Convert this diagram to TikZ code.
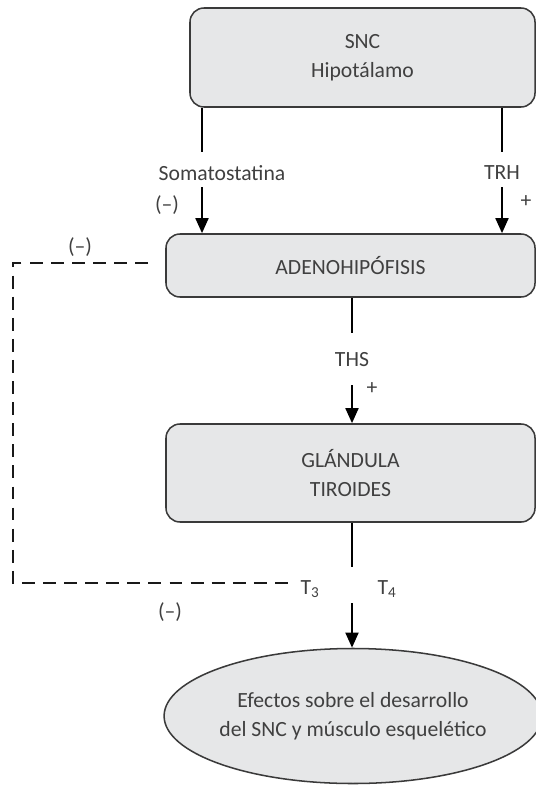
\documentclass[tikz,border=0pt]{standalone}
\usepackage{fontspec}
\setmainfont{Carlito}
\usetikzlibrary{arrows.meta,shapes.geometric}

\definecolor{relleno}{HTML}{E6E7E8}
\definecolor{borde}{HTML}{3A3A3A}
\definecolor{texto}{HTML}{404040}

\tikzset{
	caja/.style={draw=borde, line width=1.3pt, fill=relleno, rounded corners=0.42cm,
		inner sep=0pt, align=center, text=texto},
	elipse/.style={ellipse, draw=borde, line width=1.3pt, fill=relleno,
		inner sep=0pt, align=center, text=texto},
	linea/.style={line width=2.2pt, black},
	flecha/.style={line width=2.2pt, black, -{Triangle[length=13pt,width=11pt]}},
	retro/.style={line width=2.4pt, black!90, dash pattern=on 11pt off 7pt},
	etiq/.style={text=texto, inner sep=1pt}
}

\begin{document}
\begin{tikzpicture}[x=0.03cm, y=-0.03cm, font=\fontsize{18.5}{25}\selectfont]
		\useasboundingbox (0, 0) rectangle (536, 786);
		
		% Cajas
		\node[caja, minimum width=10.35cm, minimum height=2.97cm] (hipo) at (362.5, 57.5) {SNC\\Hipotálamo};
		\node[caja, minimum width=11.07cm, minimum height=1.89cm] (adeno) at (350.5, 265.5) {ADENOHIPÓFISIS};
		\node[caja, minimum width=11.07cm, minimum height=2.94cm] (tiro) at (350.5, 473) {GLÁNDULA\\TIROIDES};
		\node[elipse, minimum width=10.92cm, minimum height=4.05cm] (efectos) at (353, 716) {Efectos sobre el desarrollo\\del SNC y músculo esquelético};
		
		% Puntos de corte de las flechas
		\coordinate (s1) at (202, 152);
		\coordinate (s2) at (202, 187);
		\coordinate (t1) at (502, 152);
		\coordinate (t2) at (502, 187);
		\coordinate (h1) at (352, 333);
		\coordinate (h2) at (352, 385);
		\coordinate (e1) at (352, 567);
		\coordinate (e2) at (352, 603);
		
		\draw[linea] (hipo.south -| s1) -- (s1);
		\draw[flecha] (s2) -- (adeno.north -| s2);
		\draw[linea] (hipo.south -| t1) -- (t1);
		\draw[flecha] (t2) -- (adeno.north -| t2);
		\draw[linea] (adeno.south -| h1) -- (h1);
		\draw[flecha] (h2) -- (tiro.north -| h2);
		\draw[linea] (tiro.south -| e1) -- (e1);
		\draw[flecha] (e2) -- (efectos.north -| e2);
		
		% Retroalimentacion
		\coordinate (d1) at (148, 263);
		\coordinate (d2) at (290, 583);
		\coordinate (dl) at (13, 423);
		\draw[retro] (d1) -| (dl) |- (d2);
		
		% Etiquetas
		\node[etiq] (somato) at (222, 173) {Somatostatina};
		\node[etiq] (menos1) at (167, 205) {(–)};
		\node[etiq] (trh) at (502, 173) {TRH};
		\node[etiq] (mas1) at (526, 202) {+};
		\node[etiq] (ths) at (352, 360) {THS};
		\node[etiq] (mas2) at (372, 389) {+};
		\node[etiq] (menos2) at (80, 247) {(–)};
		\node[etiq] (tres) at (310, 589) {T\textsubscript{3}};
		\node[etiq] (cuatro) at (387, 589) {T\textsubscript{4}};
		\node[etiq] (menos3) at (170, 612) {(–)};
\end{tikzpicture}
\end{document}
